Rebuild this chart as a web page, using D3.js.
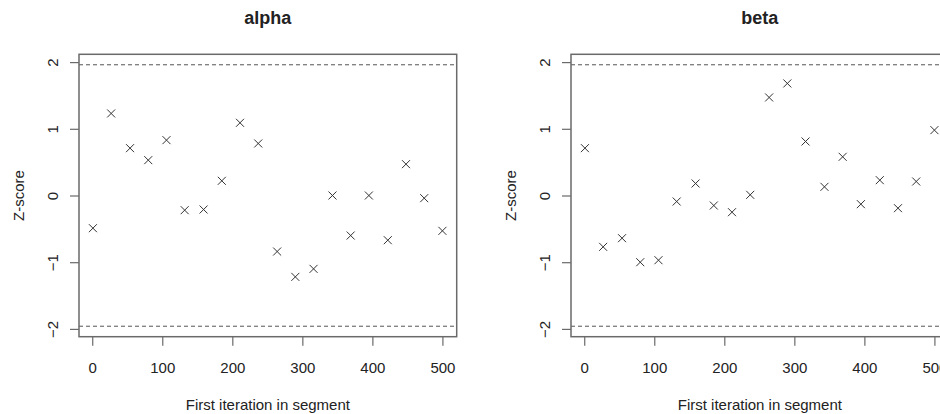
<!DOCTYPE html>
<html>
<head>
<meta charset="utf-8">
<script src="https://cdn.jsdelivr.net/npm/d3@7"></script>
<style>
html, body { margin: 0; padding: 0; background: #fff; overflow: hidden; }
svg { display: block; font-family: "Liberation Sans", Arial, sans-serif; }
</style>
</head>
<body>
<svg id="chart" width="940" height="414"></svg>
<script>
// ---- data ----
const panelTitles = ["alpha", "beta"];
const firstIteration = [1, 27, 54, 80, 106, 132, 159, 185, 211, 237, 264, 290, 316, 343, 369, 395, 422, 448, 474, 500];
const alphaZ = [-0.49, 1.23, 0.71, 0.53, 0.83, -0.22, -0.21, 0.22, 1.09, 0.78, -0.84, -1.22, -1.10, 0.00, -0.60, 0.00, -0.67, 0.47, -0.04, -0.53];
const betaZ = [0.71, -0.77, -0.64, -1.00, -0.97, -0.09, 0.18, -0.15, -0.25, 0.01, 1.47, 1.68, 0.81, 0.13, 0.58, -0.13, 0.23, -0.19, 0.21, 0.98];
const xTicks = [0, 100, 200, 300, 400, 500];
const yTicks = [-2, -1, 0, 1, 2];
const refLines = [-1.96, 1.96];
const xLabel = "First iteration in segment";
const yLabel = "Z-score";

// ---- layout ----
const svg = d3.select("#chart");
const panels = [
  { title: panelTitles[0], values: alphaZ, left: 79, right: 456.7 },
  { title: panelTitles[1], values: betaZ, left: 571, right: 948.7 }
];
const plotTop = 54.3, plotBottom = 336.7;
const xDomain = [-18.9, 520.4];
const yDomain = [-2.117, 2.117];
const boxColor = "#6a6a6a";
const textColor = "#222";

panels.forEach(p => {
  const x = d3.scaleLinear().domain(xDomain).range([p.left, p.right]);
  const y = d3.scaleLinear().domain(yDomain).range([plotBottom, plotTop]);
  const g = svg.append("g");

  // reference dashed lines
  g.selectAll("line.ref").data(refLines).enter().append("line")
    .attr("class", "ref")
    .attr("x1", p.left).attr("x2", p.right)
    .attr("y1", d => y(d)).attr("y2", d => y(d))
    .attr("stroke", "#555").attr("stroke-width", 1)
    .attr("stroke-dasharray", "4,3");

  // points (pch = 4, cross)
  const s = 4;
  const pts = g.selectAll("g.pt").data(p.values).enter().append("g")
    .attr("class", "pt")
    .attr("transform", (d, i) => `translate(${x(firstIteration[i])},${y(d)})`);
  pts.append("line").attr("x1", -s).attr("y1", -s).attr("x2", s).attr("y2", s)
    .attr("stroke", "#333").attr("stroke-width", 1);
  pts.append("line").attr("x1", -s).attr("y1", s).attr("x2", s).attr("y2", -s)
    .attr("stroke", "#333").attr("stroke-width", 1);

  // box
  g.append("rect")
    .attr("x", p.left).attr("y", plotTop)
    .attr("width", p.right - p.left).attr("height", plotBottom - plotTop)
    .attr("fill", "none").attr("stroke", boxColor).attr("stroke-width", 1.5);

  // x axis
  const xAxis = d3.axisBottom(x).tickValues(xTicks).tickSize(9).tickPadding(17)
    .tickFormat(d3.format("d"));
  const xg = g.append("g").attr("transform", `translate(0,${plotBottom})`).call(xAxis);
  xg.select(".domain").attr("stroke", "none");
  xg.selectAll(".tick line").attr("stroke", boxColor).attr("stroke-width", 1.2);
  xg.selectAll(".tick text").attr("font-size", 15).attr("fill", textColor)
    .attr("font-family", "Liberation Sans, Arial, sans-serif");

  // y axis
  const yAxis = d3.axisLeft(y).tickValues(yTicks).tickSize(9).tickFormat(d3.format("d"));
  const yg = g.append("g").attr("transform", `translate(${p.left},0)`).call(yAxis);
  yg.select(".domain").attr("stroke", "none");
  yg.selectAll(".tick line").attr("stroke", boxColor).attr("stroke-width", 1.2);
  yg.selectAll(".tick text")
    .attr("x", null).attr("dy", null)
    .attr("transform", "translate(-27,0) rotate(-90)")
    .attr("text-anchor", "middle").attr("dominant-baseline", "central")
    .attr("font-size", 15).attr("fill", textColor)
    .attr("font-family", "Liberation Sans, Arial, sans-serif");

  const cx = (p.left + p.right) / 2;
  // title
  g.append("text").attr("x", cx).attr("y", 23.5)
    .attr("text-anchor", "middle").attr("font-weight", "bold")
    .attr("font-size", 18).attr("fill", textColor).text(p.title);
  // x label
  g.append("text").attr("x", cx).attr("y", 410)
    .attr("text-anchor", "middle").attr("font-size", 15)
    .attr("fill", textColor).text(xLabel);
  // y label
  g.append("text")
    .attr("transform", `translate(${p.left - 61},${(plotTop + plotBottom) / 2}) rotate(-90)`)
    .attr("text-anchor", "middle").attr("dominant-baseline", "central")
    .attr("font-size", 15).attr("fill", textColor).text(yLabel);
});
</script>
</body>
</html>
